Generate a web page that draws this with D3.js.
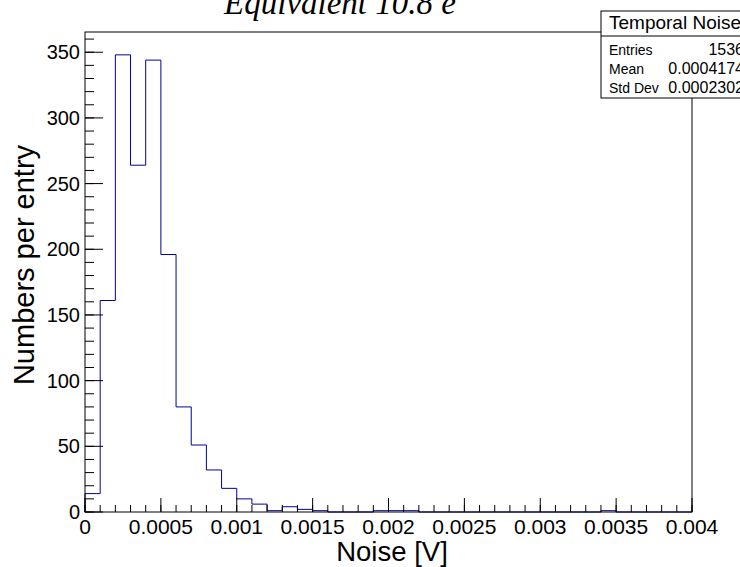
<!DOCTYPE html>
<html>
<head>
<meta charset="utf-8">
<script src="https://cdn.jsdelivr.net/npm/d3@7"></script>
<style>
  html, body { margin: 0; padding: 0; background: #fff; }
  svg { display: block; }
</style>
</head>
<body>
<div id="chart"></div>
<script>
// Histogram of temporal noise: 40 bins of 0.0001 V between 0 and 0.004 V
const binLow = 0;
const binHigh = 0.004;
const counts = [
  14, 161, 348, 264, 344, 196, 80, 51, 32, 18,
  10, 6, 1, 4, 2, 1, 0, 0, 0, 1,
  1, 1, 0, 0, 0, 0, 0, 0, 0, 0,
  0, 0, 0, 0, 1, 0, 0, 0, 0, 0
];
const xTickValues = [0, 0.0005, 0.001, 0.0015, 0.002, 0.0025, 0.003, 0.0035, 0.004];
const xTickLabels = ["0", "0.0005", "0.001", "0.0015", "0.002", "0.0025", "0.003", "0.0035", "0.004"];
const yTickValues = [0, 50, 100, 150, 200, 250, 300, 350];
const statNames = ["Entries", "Mean", "Std Dev"];
const statValues = ["1536", "0.0004174", "0.0002302"];
const statsTitle = "Temporal Noise";
const histTitle = "Equivalent 10.8 e";
const xTitle = "Noise [V]";
const yTitle = "Numbers per entry";

const W = 740, H = 567;
const frame = { left: 85, right: 692, top: 32, bottom: 512 };
const sans = "'Liberation Sans', Arial, Helvetica, sans-serif";
const serif = "'Liberation Serif', 'Times New Roman', serif";

const svg = d3.select("#chart").append("svg")
  .attr("width", W).attr("height", H)
  .style("font-family", sans);

const nBins = counts.length;
const binWidth = (binHigh - binLow) / nBins;
const yMax = d3.max(counts) * 1.05;

const x = d3.scaleLinear().domain([binLow, binHigh]).range([frame.left, frame.right]);
const y = d3.scaleLinear().domain([0, yMax]).range([frame.bottom, frame.top]);

// Step outline across all bins
const pts = [[binLow, 0]];
counts.forEach((c, i) => {
  pts.push([binLow + i * binWidth, c]);
  pts.push([binLow + (i + 1) * binWidth, c]);
});
pts.push([binHigh, 0]);

svg.append("path")
  .attr("d", d3.line().x(d => x(d[0])).y(d => y(d[1]))(pts))
  .attr("fill", "none")
  .attr("stroke", "#000099")
  .attr("stroke-width", 1);

// Frame
svg.append("rect")
  .attr("x", frame.left).attr("y", frame.top)
  .attr("width", frame.right - frame.left)
  .attr("height", frame.bottom - frame.top)
  .attr("fill", "none").attr("stroke", "#000").attr("stroke-width", 1);

// X axis: major ticks every 0.0005, minor every 0.0001
const xAxisG = svg.append("g");
const xMinor = d3.range(0, 41).map(i => i * 0.0001);
xAxisG.selectAll("line.minor").data(xMinor).enter().append("line")
  .attr("x1", d => x(d)).attr("x2", d => x(d))
  .attr("y1", frame.bottom).attr("y2", frame.bottom - 7)
  .attr("stroke", "#000").attr("stroke-width", 1);
xAxisG.selectAll("line.major").data(xTickValues).enter().append("line")
  .attr("x1", d => x(d)).attr("x2", d => x(d))
  .attr("y1", frame.bottom).attr("y2", frame.bottom - 14)
  .attr("stroke", "#000").attr("stroke-width", 1);
xAxisG.selectAll("text").data(xTickValues).enter().append("text")
  .attr("x", d => x(d)).attr("y", 534)
  .attr("text-anchor", "middle")
  .attr("font-size", 21)
  .text((d, i) => xTickLabels[i]);

// Y axis: major ticks every 50, minor every 10
const yAxisG = svg.append("g");
const yMinor = d3.range(0, 37).map(i => i * 10);
yAxisG.selectAll("line.minor").data(yMinor).enter().append("line")
  .attr("x1", frame.left).attr("x2", frame.left + 9)
  .attr("y1", d => y(d)).attr("y2", d => y(d))
  .attr("stroke", "#000").attr("stroke-width", 1);
yAxisG.selectAll("line.major").data(yTickValues).enter().append("line")
  .attr("x1", frame.left).attr("x2", frame.left + 18)
  .attr("y1", d => y(d)).attr("y2", d => y(d))
  .attr("stroke", "#000").attr("stroke-width", 1);
yAxisG.selectAll("text").data(yTickValues).enter().append("text")
  .attr("x", frame.left - 5)
  .attr("y", d => y(d) + 7)
  .attr("text-anchor", "end")
  .attr("font-size", 20)
  .text(d => d);

// Axis titles
svg.append("text")
  .attr("x", 392).attr("y", 561)
  .attr("text-anchor", "middle")
  .attr("font-size", 27.5)
  .text(xTitle);
svg.append("text")
  .attr("transform", "translate(34,265) rotate(-90)")
  .attr("text-anchor", "middle")
  .attr("font-size", 29)
  .text(yTitle);

// Histogram title
svg.append("text")
  .attr("x", 340).attr("y", 14)
  .attr("text-anchor", "middle")
  .style("font-family", serif)
  .style("font-style", "italic")
  .attr("font-size", 33)
  .text(histTitle);

// Statistics box
const sb = { x: 601, y: 11, w: 160, h: 87, head: 25 };
const stats = svg.append("g");
stats.append("rect")
  .attr("x", sb.x).attr("y", sb.y).attr("width", sb.w).attr("height", sb.h)
  .attr("fill", "#fff").attr("stroke", "#000").attr("stroke-width", 1);
stats.append("line")
  .attr("x1", sb.x).attr("x2", sb.x + sb.w)
  .attr("y1", sb.y + sb.head).attr("y2", sb.y + sb.head)
  .attr("stroke", "#000").attr("stroke-width", 1);
stats.append("text")
  .attr("x", 609).attr("y", 29)
  .attr("font-size", 19)
  .text(statsTitle);
const rowY = [55, 74, 93];
statNames.forEach((n, i) => {
  stats.append("text")
    .attr("x", 609).attr("y", rowY[i])
    .attr("font-size", 14)
    .text(n);
  stats.append("text")
    .attr("x", 744).attr("y", rowY[i])
    .attr("text-anchor", "end")
    .attr("font-size", 16)
    .text(statValues[i]);
});
</script>
</body>
</html>
